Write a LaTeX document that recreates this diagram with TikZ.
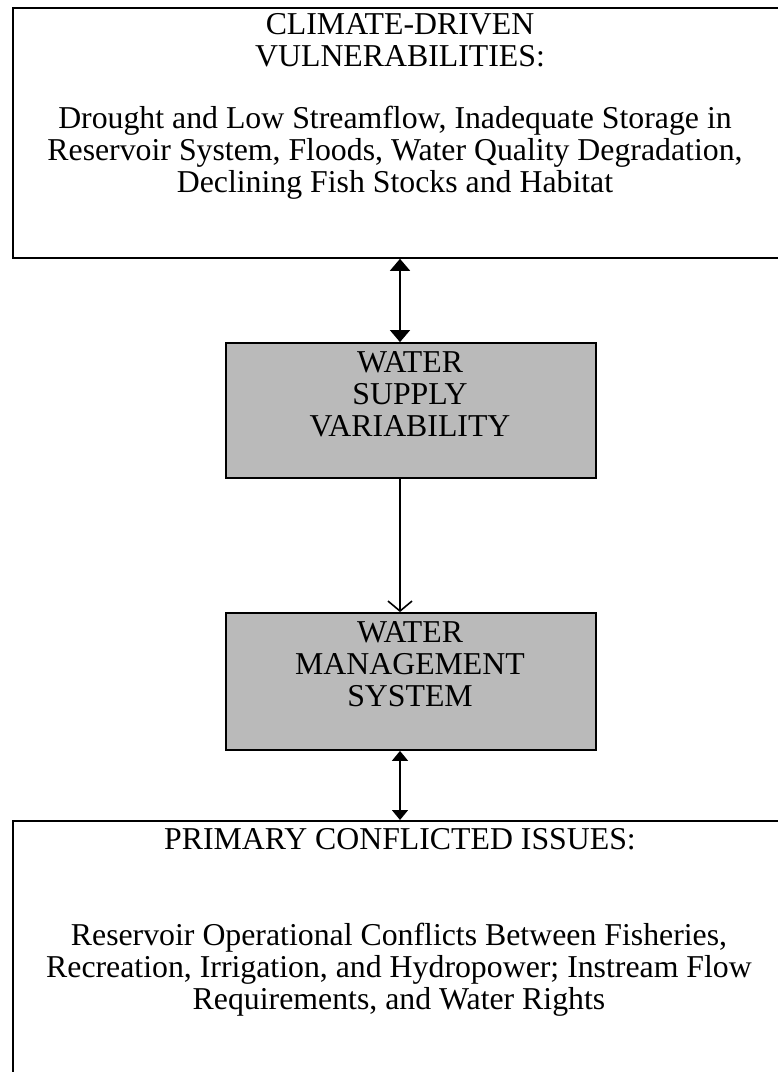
\documentclass[tikz,border=0pt]{standalone}
\usepackage{fontspec}
\setmainfont{Liberation Serif}
\usetikzlibrary{arrows.meta}

\tikzset{
  bigbox/.style={draw, line width=1.8pt, anchor=north west, inner sep=0pt},
  greybox/.style={draw, line width=1.8pt, fill=black!27, minimum width=370pt, minimum height=135pt, inner sep=0pt},
  boxtext/.style={align=center, inner sep=0pt, font=\fontsize{31.8}{32}\selectfont},
  link/.style={line width=1.6pt},
}

\begin{document}
\begin{tikzpicture}[x=1pt,y=-1pt]
\useasboundingbox (0,0) rectangle (778,1072);

\node[bigbox, minimum width=800pt, minimum height=250pt] (climate) at (12,7) {};
\node[boxtext] (climatehead) at (400,40.5) {CLIMATE-DRIVEN\\VULNERABILITIES:};
\node[boxtext] (climatebody) at (395,152.6) {Drought and Low Streamflow, Inadequate Storage in\\Reservoir System, Floods, Water Quality Degradation,\\Declining Fish Stocks and Habitat};

\node[greybox] (supply) at (411,410.5) {};
\node[boxtext] (supplytext) at (410,394.5) {WATER\\SUPPLY\\VARIABILITY};

\node[greybox, minimum height=137pt] (manage) at (411,681.5) {};
\node[boxtext] (managetext) at (410,664.5) {WATER\\MANAGEMENT\\SYSTEM};

\node[bigbox, minimum width=800pt, minimum height=300pt] (issues) at (12,820) {};
\node[boxtext] (issueshead) at (400,839.5) {PRIMARY CONFLICTED ISSUES:};
\node[boxtext] (issuesbody) at (399,969.6) {Reservoir Operational Conflicts Between Fisheries,\\Recreation, Irrigation, and Hydropower; Instream Flow\\Requirements, and Water Rights};

\coordinate (axis) at (400,0);

\draw[link, {Triangle[width=20pt,length=12pt]}-{Triangle[width=20pt,length=12pt]}] (axis |- climate.south) -- (axis |- supply.north);
\draw[link, -{Straight Barb[width=24pt,length=10pt]}] (axis |- supply.south) -- (axis |- manage.north);
\draw[link, {Triangle[width=16pt,length=10pt]}-{Triangle[width=16pt,length=10pt]}] (axis |- manage.south) -- (axis |- issues.north);

\end{tikzpicture}
\end{document}
